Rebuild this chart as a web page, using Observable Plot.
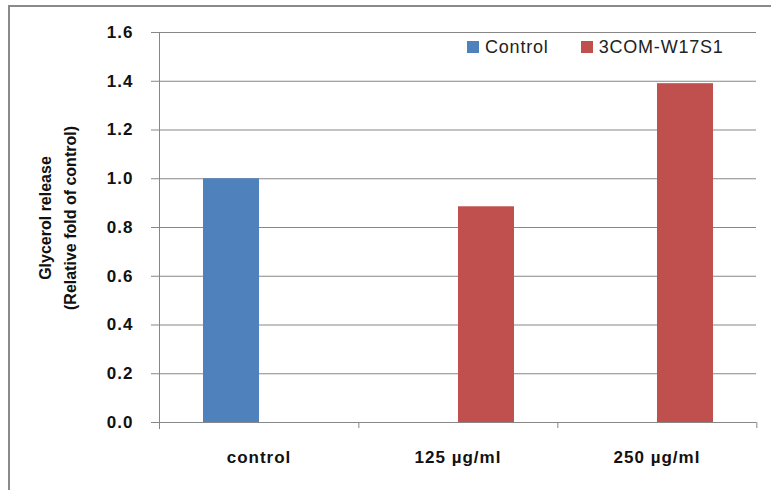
<!DOCTYPE html>
<html><head><meta charset="utf-8">
<script src="https://cdn.jsdelivr.net/npm/d3@7"></script>
<script src="https://cdn.jsdelivr.net/npm/@observablehq/plot@0.6"></script>
<style>
html,body{margin:0;padding:0;background:#fff;overflow:hidden}
#wrap{position:relative;width:771px;height:490px;font-family:"Liberation Sans",Arial,sans-serif;background:#fff}
#border{position:absolute;left:8px;top:5px;width:800px;height:500px;border-left:2px solid #8a8a8a;border-top:2px solid #8a8a8a;box-sizing:border-box}
#chart{position:absolute;left:0;top:0}
#ytitle{position:absolute;left:-42.5px;top:193px;width:200px;height:50px;transform:rotate(-90deg);text-align:center;font-weight:bold;font-size:16px;line-height:25px;color:#111;white-space:nowrap}
#legend{position:absolute;left:467px;top:38px;display:flex;align-items:center;font-size:18px;line-height:18px;letter-spacing:0.8px;color:#222;white-space:nowrap}
#legend .item{display:flex;align-items:center;margin-right:32px}
#legend .sw{display:inline-block;width:12px;height:12px;margin-right:6px}
</style></head>
<body>
<div id="wrap">
  <div id="border"></div>
  <div id="chart"></div>
  <div id="ytitle"></div>
  <div id="legend"></div>
</div>
<script>
const categories = ["control", "125 µg/ml", "250 µg/ml"];
const series = ["Control", "3COM-W17S1"];
const seriesOf = ["Control", "3COM-W17S1", "3COM-W17S1"];
const values = [1.0, 0.885, 1.39];
const yTicks = [0, 0.2, 0.4, 0.6, 0.8, 1.0, 1.2, 1.4, 1.6];
const yTitle = ["Glycerol release", "(Relative fold of control)"];
const colors = ["#4F81BD", "#C0504D"];

const rows = categories.map((c, i) => ({category: c, series: seriesOf[i], value: values[i]}));

const W = 771, H = 490, ML = 158, MR = 14, MT = 32, MB = 68;
const bw = (W - ML - MR) / categories.length;
const gray = "#878787";

const plot = Plot.plot({
  width: W, height: H,
  marginLeft: ML, marginRight: MR, marginTop: MT, marginBottom: MB,
  style: {fontFamily: "'Liberation Sans', Arial, sans-serif", fontSize: "17px", color: "#111", background: "transparent", letterSpacing: "1px"},
  fx: {domain: categories, padding: 0},
  x: {domain: series, paddingInner: 0, paddingOuter: 0.75, axis: null},
  y: {domain: [0, 1.6]},
  color: {domain: series, range: colors},
  marks: [
    Plot.gridY(yTicks, {stroke: gray, strokeOpacity: 1}),
    Plot.barY(rows, {fx: "category", x: "series", y: "value", fill: "series"}),
    Plot.axisY(yTicks, {tickSize: 8, tickPadding: 18, tickFormat: d3.format(".1f"), stroke: gray, fontWeight: "bold", label: null}),
    Plot.frame({anchor: "left", facetAnchor: "left", stroke: gray, insetBottom: -6}),
    Plot.axisFx({anchor: "bottom", tickSize: 0, tickPadding: 28, fontWeight: "bold", label: null}),
    Plot.axisFx({anchor: "bottom", tickSize: 6, fill: "none", stroke: gray, dx: bw / 2, label: null})
  ]
});
document.getElementById("chart").appendChild(plot);

document.getElementById("ytitle").innerHTML = yTitle.map(t => `<div>${t}</div>`).join("");
document.getElementById("legend").innerHTML = series.map((s, i) =>
  `<span class="item"><span class="sw" style="background:${colors[i]}"></span>${s}</span>`).join("");
</script>
</body></html>
